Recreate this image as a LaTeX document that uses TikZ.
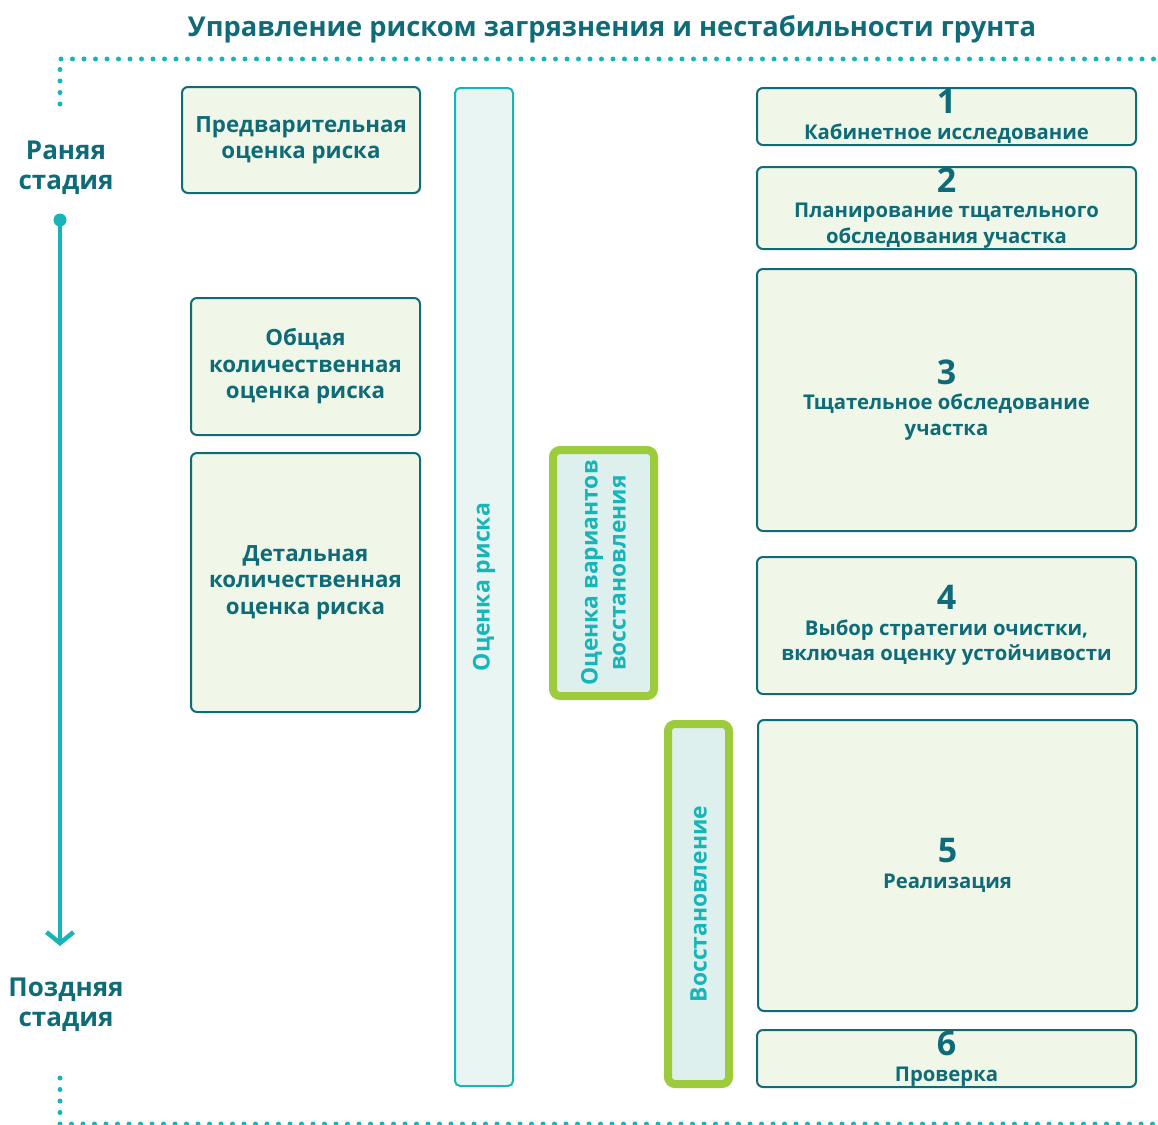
\documentclass[tikz,border=0pt]{standalone}
\usepackage{fontspec}
\setmainfont{Open Sans}
\usetikzlibrary{arrows.meta}
\definecolor{dk}{HTML}{0E6B77}
\definecolor{tl}{HTML}{17B5B8}
\definecolor{bfill}{HTML}{F0F7E8}
\definecolor{barfill}{HTML}{E8F5F3}
\definecolor{gr}{HTML}{9CCB3B}
\definecolor{gfill}{HTML}{DDF0EE}
\begin{document}
\begin{tikzpicture}[x=1pt,y=-1pt,
  pbox/.style={draw=dk, line width=2pt, fill=bfill, rounded corners=6pt, text=dk,
    font=\bfseries\fontsize{20.3}{25.5}\selectfont, align=center, inner sep=0pt},
  lbox/.style={pbox, font=\bfseries\fontsize{22.3}{26.5}\selectfont},
  bar/.style={draw=tl, line width=2pt, fill=barfill, rounded corners=5pt, text=tl,
    font=\bfseries\fontsize{23}{28}\selectfont, align=center, inner sep=0pt, rotate=90},
  gbox/.style={draw=gr, line width=8pt, fill=gfill, rounded corners=7pt, text=tl,
    font=\bfseries\fontsize{22.8}{28}\selectfont, align=center, inner sep=0pt, rotate=90},
  stage/.style={text=dk, font=\bfseries\fontsize{26}{30}\selectfont, align=center, inner sep=0pt},
  dotline/.style={tl, line width=5pt, line cap=round, dash pattern=on 0pt off 11.5pt}]
\useasboundingbox (0,0) rectangle (1158,1124);
% title
\node[text=dk, font=\bfseries\fontsize{27.3}{30}\selectfont, inner sep=0pt] (title) at (612,29) {Управление риском загрязнения и нестабильности грунта};
% dotted frame
\coordinate (tl0) at (60,59);
\coordinate (tr0) at (1158,59);
\coordinate (tv) at (60,104);
\coordinate (bl0) at (60,1124);
\coordinate (br0) at (1158,1124);
\coordinate (bv) at (60,1078);
\draw[dotline] (tv) -- (tl0) -- (tr0);
\draw[dotline] (bv) -- (bl0) -- (br0);
% stages
\node[stage] (early) at (66,168) {Раняя\\стадия};
\node[stage] (late) at (66,1005) {Поздняя\\стадия};
\coordinate (astart) at (60,220);
\coordinate (aend) at (60,946);
\fill[tl] (astart) circle (6.5pt);
\draw[tl, line width=4.5pt, -{Straight Barb[length=11pt,width=27pt,line width=4.5pt]}] (astart) -- (aend);
% left boxes
\node[lbox, minimum width=238pt, minimum height=106pt] (pre) at (301,140) {Предварительная\\оценка риска};
\node[lbox, minimum width=229pt, minimum height=137pt] (gen) at (305.5,366.5) {Общая\\количественная\\оценка риска};
\node[lbox, minimum width=229pt, minimum height=259pt] (det) at (305.5,582.5) {Детальная\\количественная\\оценка риска};
% bars
\node[bar, minimum width=998pt, minimum height=58pt] (risk) at (484,587) {Оценка риска};
\node[gbox, minimum width=246pt, minimum height=101pt] (opt) at (603.5,573) {Оценка вариантов\\восстановления};
\node[gbox, minimum width=360pt, minimum height=61pt] (rem) at (698.5,904) {Восстановление};
% right boxes
\node[pbox, minimum width=379pt, minimum height=57pt] (s1) at (946.5,116.5) {{\fontsize{34}{25}\selectfont 1}\\Кабинетное исследование};
\node[pbox, minimum width=379pt, minimum height=82pt] (s2) at (946.5,208) {{\fontsize{34}{25}\selectfont 2}\\Планирование тщательного\\обследования участка};
\node[pbox, minimum width=379pt, minimum height=262pt] (s3) at (946.5,400) {{\fontsize{34}{25}\selectfont 3}\\Тщательное обследование\\участка};
\node[pbox, minimum width=379pt, minimum height=137pt] (s4) at (946.5,625.5) {{\fontsize{34}{25}\selectfont 4}\\Выбор стратегии очистки,\\включая оценку устойчивости};
\node[pbox, minimum width=379pt, minimum height=291pt] (s5) at (947.5,865.5) {{\fontsize{34}{25}\selectfont 5}\\Реализация};
\node[pbox, minimum width=379pt, minimum height=57pt] (s6) at (946.5,1058.5) {{\fontsize{34}{25}\selectfont 6}\\Проверка};
\end{tikzpicture}
\end{document}
